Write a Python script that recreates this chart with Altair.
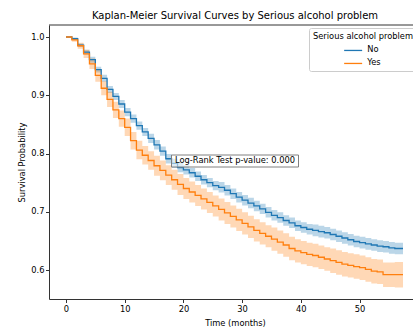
import altair as alt
import pandas as pd

# ---- data (months, survival probability) ----
times = [0, 1, 2, 3, 4, 5, 6, 7, 8, 9, 10, 11, 12, 13, 14, 15, 16, 17, 18, 19,
         20, 21, 22, 23, 24, 25, 26, 27, 28, 29, 30, 31, 32, 33, 34, 35, 36, 37, 38, 39,
         40, 41, 42, 43, 44, 45, 46, 47, 48, 49, 50, 51, 52, 53, 54, 55, 56, 57, 57.4]

surv_no = [1.000, 0.997, 0.986, 0.974, 0.961, 0.944, 0.929, 0.910, 0.898, 0.885,
           0.871, 0.860, 0.848, 0.837, 0.826, 0.815, 0.804, 0.791, 0.783, 0.776,
           0.772, 0.767, 0.761, 0.755, 0.750, 0.745, 0.742, 0.737, 0.731, 0.725,
           0.720, 0.715, 0.710, 0.705, 0.699, 0.694, 0.690, 0.685, 0.681, 0.676,
           0.673, 0.670, 0.668, 0.666, 0.664, 0.661, 0.658, 0.655, 0.652, 0.649,
           0.647, 0.645, 0.643, 0.641, 0.640, 0.638, 0.637, 0.637, 0.637]

surv_yes = [1.000, 0.995, 0.985, 0.971, 0.954, 0.934, 0.912, 0.893, 0.875, 0.860,
            0.845, 0.822, 0.806, 0.797, 0.788, 0.779, 0.771, 0.763, 0.755, 0.747,
            0.740, 0.734, 0.728, 0.722, 0.716, 0.710, 0.704, 0.698, 0.692, 0.686,
            0.680, 0.674, 0.668, 0.663, 0.658, 0.653, 0.648, 0.643, 0.637, 0.633,
            0.630, 0.627, 0.625, 0.622, 0.619, 0.616, 0.613, 0.610, 0.608, 0.606,
            0.604, 0.601, 0.598, 0.597, 0.592, 0.592, 0.592, 0.592, 0.592]

# half-width of the 95% confidence band
ci_no = [0.000, 0.002, 0.003, 0.004, 0.005, 0.005, 0.006, 0.006, 0.006, 0.007,
         0.007, 0.007, 0.007, 0.007, 0.008, 0.008, 0.008, 0.008, 0.008, 0.008,
         0.008, 0.008, 0.008, 0.008, 0.008, 0.008, 0.009, 0.009, 0.009, 0.009,
         0.009, 0.009, 0.009, 0.009, 0.009, 0.009, 0.009, 0.009, 0.009, 0.009,
         0.009, 0.009, 0.010, 0.010, 0.010, 0.010, 0.010, 0.010, 0.010, 0.010,
         0.010, 0.010, 0.010, 0.010, 0.010, 0.010, 0.010, 0.010, 0.010]

ci_yes = [0.000, 0.003, 0.005, 0.007, 0.009, 0.011, 0.012, 0.013, 0.014, 0.014,
          0.015, 0.015, 0.016, 0.016, 0.016, 0.017, 0.017, 0.017, 0.017, 0.018,
          0.018, 0.018, 0.018, 0.018, 0.018, 0.018, 0.019, 0.019, 0.019, 0.019,
          0.019, 0.019, 0.019, 0.019, 0.019, 0.020, 0.020, 0.020, 0.020, 0.020,
          0.020, 0.020, 0.020, 0.020, 0.020, 0.021, 0.021, 0.021, 0.021, 0.021,
          0.021, 0.021, 0.021, 0.021, 0.021, 0.021, 0.022, 0.022, 0.022]

groups = ["No", "Yes"]
colors = ["#1f77b4", "#ff7f0e"]

title_text = "Kaplan-Meier Survival Curves by Serious alcohol problem"
legend_title = "Serious alcohol problem"
annotation_text = "Log-Rank Test p-value: 0.000"
x_ticks = [0, 10, 20, 30, 40, 50]
y_ticks = [0.6, 0.7, 0.8, 0.9, 1.0]

# ---- build table ----
rows = []
for g, s, c in [("No", surv_no, ci_no), ("Yes", surv_yes, ci_yes)]:
    for t, v, h in zip(times, s, c):
        rows.append({"time": t, "group": g, "surv": v, "lo": v - h, "hi": v + h})
df = pd.DataFrame(rows)
df["series"] = df["group"]

W, H = 364, 274
FONT = "DejaVu Sans"

xscale = alt.Scale(domain=[-2.89, 59.1], nice=False, zero=False)
yscale = alt.Scale(domain=[0.5503, 1.0206], nice=False, zero=False)

x_enc = alt.X("time:Q", scale=xscale,
              axis=alt.Axis(values=x_ticks, title="Time (months)", format="d",
                            titleX=186, titleY=26, titleBaseline="alphabetic"))
y_axis = alt.Axis(values=y_ticks, title="Survival Probability", format=".1f",
                  titleX=-25, titleBaseline="alphabetic")

base = alt.Chart(df)

band = base.mark_area(interpolate="step-after", opacity=0.3, clip=True).encode(
    x=x_enc,
    y=alt.Y("lo:Q", scale=yscale, axis=y_axis),
    y2="hi:Q",
    fill=alt.Fill("series:N", scale=alt.Scale(domain=groups, range=colors), legend=None),
)

# short-line legend symbol (custom path so the rows stay compact)
legend = alt.Legend(
    title=legend_title, orient="none", legendX=260, legendY=3,
    fillColor="white", strokeColor="#cccccc", cornerRadius=2, padding=4,
    titleFont=FONT, titleFontSize=8.3, titleFontWeight="normal", titleColor="black",
    titlePadding=6, labelFont=FONT, labelFontSize=8.3, labelColor="black",
    symbolType="M-3,0L3,0", symbolSize=36, symbolStrokeWidth=1.3,
    symbolOffset=36, labelOffset=10, rowPadding=4,
)

line = base.mark_line(interpolate="step-after", strokeWidth=1.3, clip=True).encode(
    x=alt.X("time:Q", scale=xscale),
    y=alt.Y("surv:Q", scale=yscale),
    stroke=alt.Stroke("group:N", scale=alt.Scale(domain=groups, range=colors),
                      legend=legend),
)

dummy = pd.DataFrame({"k": [0]})
top_spine = alt.Chart(dummy).mark_rule(color="#333", strokeWidth=1).encode(
    x=alt.value(0), x2=alt.value(W), y=alt.value(0))

box = alt.Chart(dummy).mark_rect(fill="white", fillOpacity=0.5, stroke="#808080",
                                 strokeWidth=1).encode(
    x=alt.value(186 - 63.5), x2=alt.value(186 + 63.5),
    y=alt.value(130), y2=alt.value(142))

note = alt.Chart(dummy).mark_text(text=annotation_text, font=FONT, fontSize=8.3,
                                  color="black", align="center", baseline="middle").encode(
    x=alt.value(186), y=alt.value(136))

chart = alt.layer(band, line, top_spine, box, note).resolve_scale(
    fill="independent", stroke="independent"
).properties(
    width=W, height=H,
    padding={"left": 49, "top": 25, "right": 0, "bottom": 28},
    autosize=alt.AutoSizeParams(type="none"),
    title=alt.TitleParams(text=title_text, font=FONT, fontSize=10, fontWeight="normal",
                          color="black", offset=4, dx=4),
).configure_view(stroke=None).configure_axis(
    grid=False, labelFont=FONT, titleFont=FONT, labelFontSize=8.3, titleFontSize=8.3,
    labelColor="black", titleColor="black", titleFontWeight="normal",
    domainColor="#333", tickColor="#333", tickSize=3.5, domainWidth=1, tickWidth=1,
).configure_axisX(labelPadding=2).configure_axisY(labelPadding=1.5)

chart.save("out.html", embed_options={"renderer": "svg", "actions": False})
